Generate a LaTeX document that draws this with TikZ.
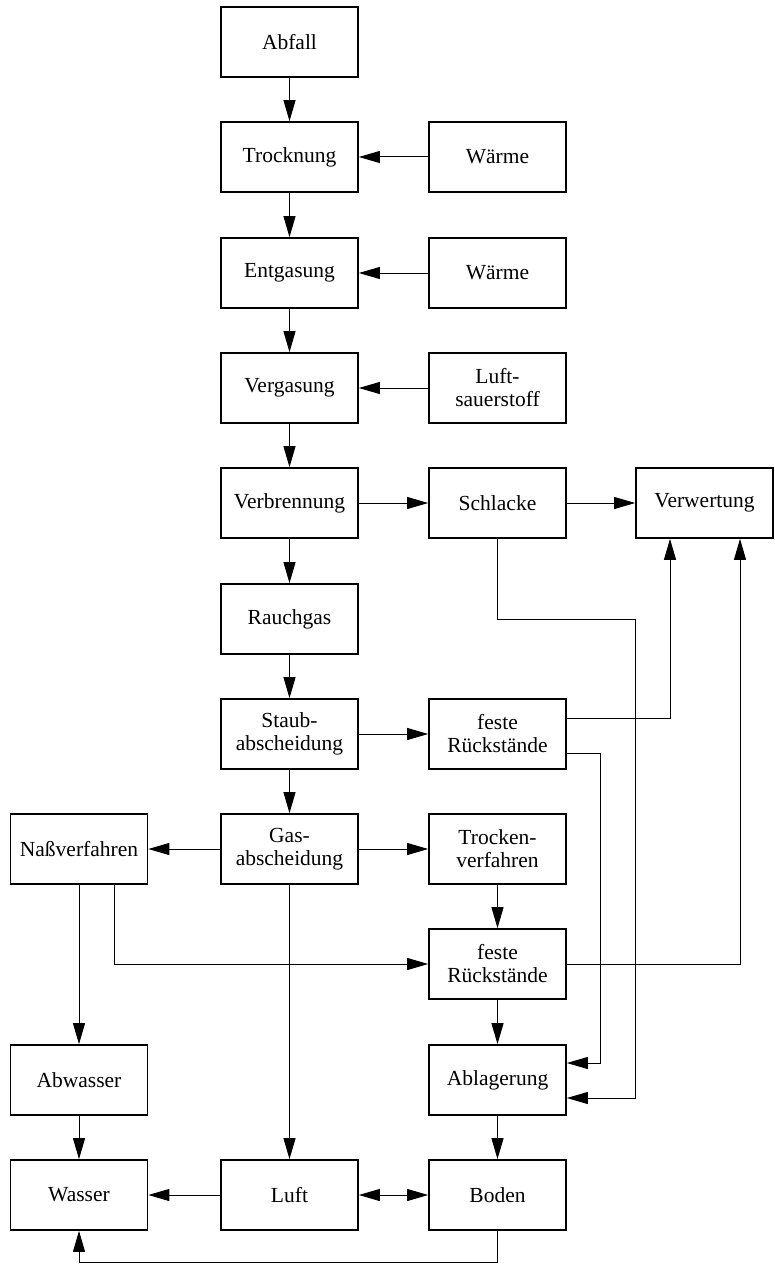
\documentclass[tikz,border=0pt]{standalone}
\usepackage{fontspec}
\setmainfont{Liberation Serif}
\usetikzlibrary{arrows.meta}
\begin{document}
\begin{tikzpicture}[x=1pt,y={(0pt,-1pt)},
  box/.style={draw, line width=1.7pt, minimum width=137pt, minimum height=70pt,
    align=center, inner sep=0pt, font=\fontsize{21.5}{23}\selectfont},
  arr/.style={line width=1pt, -{Triangle[length=21pt,width=12pt]}},
  darr/.style={line width=1pt, {Triangle[length=21pt,width=12pt]}-{Triangle[length=21pt,width=12pt]}}]
\useasboundingbox (0,0) rectangle (774,1268);
% columns 79, 289.5, 497.5, 704.5 ; rows 42,157,273,388,503,619,734,849,964,1080,1195
\node[box] (abfall) at (289.5,42) {Abfall};
\node[box] (trock) at (289.5,157) {Trocknung};
\node[box] (waerme1) at (497.5,157) {Wärme};
\node[box] (entg) at (289.5,273) {Entgasung};
\node[box] (waerme2) at (497.5,273) {Wärme};
\node[box] (verg) at (289.5,388) {Vergasung};
\node[box] (luftsauer) at (497.5,388) {Luft-\\sauerstoff};
\node[box] (verbr) at (289.5,503) {Verbrennung};
\node[box] (schlacke) at (497.5,503) {Schlacke};
\node[box] (verw) at (704.5,503) {Verwertung};
\node[box] (rauch) at (289.5,619) {Rauchgas};
\node[box] (staub) at (289.5,734) {Staub-\\abscheidung};
\node[box] (fr1) at (497.5,734) {feste\\Rückstände};
\node[box] (nass) at (79,849) {Naßverfahren};
\node[box] (gas) at (289.5,849) {Gas-\\abscheidung};
\node[box] (trocken) at (497.5,849) {Trocken-\\verfahren};
\node[box] (fr2) at (497.5,964) {feste\\Rückstände};
\node[box] (abw) at (79,1080) {Abwasser};
\node[box] (abl) at (497.5,1080) {Ablagerung};
\node[box] (wasser) at (79,1195) {Wasser};
\node[box] (luft) at (289.5,1195) {Luft};
\node[box] (boden) at (497.5,1195) {Boden};

\draw[arr] (abfall) -- (trock);
\draw[arr] (waerme1) -- (trock);
\draw[arr] (trock) -- (entg);
\draw[arr] (waerme2) -- (entg);
\draw[arr] (entg) -- (verg);
\draw[arr] (luftsauer) -- (verg);
\draw[arr] (verg) -- (verbr);
\draw[arr] (verbr) -- (schlacke);
\draw[arr] (schlacke) -- (verw);
\draw[arr] (verbr) -- (rauch);
\draw[arr] (rauch) -- (staub);
\draw[arr] (staub) -- (fr1);
\draw[arr] (staub) -- (gas);
\draw[arr] (gas) -- (nass);
\draw[arr] (gas) -- (trocken);
\draw[arr] (trocken) -- (fr2);
\draw[arr] (fr2) -- (abl);
\draw[arr] (abl) -- (boden);
\draw[arr] (gas) -- (luft);
\draw[arr] (luft) -- (wasser);
\draw[darr] (luft) -- (boden);
\draw[arr] (abw) -- (wasser);
\draw[arr] (nass) -- (abw);

\coordinate (n1) at (114,964);
\draw[arr] (nass.south -| n1) -- (n1) -- (fr2.west);

\coordinate (k1) at (635,619);
\coordinate (k2) at (635,1098);
\draw[arr] (schlacke.south) |- (k1) -- (k2) -- (abl.east |- k2);

\coordinate (f1) at (670,718);
\draw[arr] (fr1.east |- f1) -- (f1) -- (verw.south -| f1);

\coordinate (f2) at (600,753);
\coordinate (f3) at (600,1063);
\draw[arr] (fr1.east |- f2) -- (f2) -- (f3) -- (abl.east |- f3);

\coordinate (g1) at (740,964);
\draw[arr] (fr2.east) -- (g1) -- (verw.south -| g1);

\coordinate (b1) at (497.5,1262);
\coordinate (b2) at (79,1262);
\draw[arr] (boden.south) -- (b1) -- (b2) -- (wasser.south);
\end{tikzpicture}
\end{document}
